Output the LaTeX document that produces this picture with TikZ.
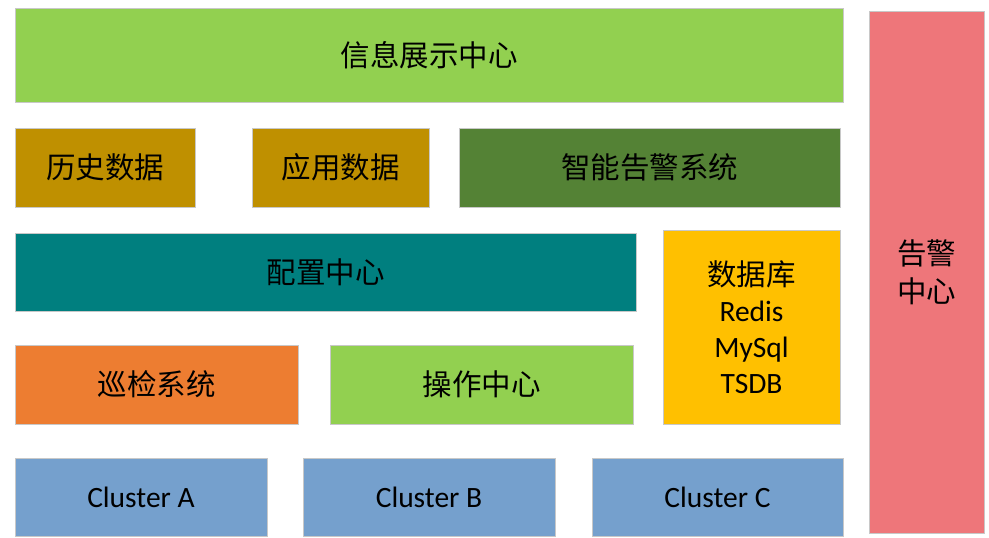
\documentclass[tikz,border=0pt]{standalone}
\usepackage{fontspec}
\setmainfont{Carlito}
\newfontfamily\cjk{Noto Sans CJK SC}
\definecolor{cgreen}{HTML}{92D050}
\definecolor{cgold}{HTML}{BF9000}
\definecolor{cdkgreen}{HTML}{548235}
\definecolor{cteal}{HTML}{007F7F}
\definecolor{corange}{HTML}{ED7D31}
\definecolor{cyellow}{HTML}{FFC000}
\definecolor{cpink}{HTML}{EE767A}
\definecolor{cblue}{HTML}{75A0CD}
\definecolor{cborder}{HTML}{C8C8C8}
\begin{document}
\begin{tikzpicture}[x=1pt,y=1pt,
  box/.style={draw=cborder, line width=0.8pt, inner sep=0pt, outer sep=0pt,
    align=center, font=\fontsize{29.5}{36}\selectfont, text=black},
  bw/.style 2 args={minimum width=#1pt, minimum height=#2pt}]
\useasboundingbox (0,0) rectangle (989,538);
\node[box, fill=cgreen, bw={828}{94}] (info) at (429,483) {\cjk 信息展示中心};
\node[box, fill=cgold, bw={180}{79}] (hist) at (105,370.5) {\cjk 历史数据};
\node[box, fill=cgold, bw={177}{79}] (app) at (340.5,370.5) {\cjk 应用数据};
\node[box, fill=cdkgreen, bw={381}{79}] (alarmsys) at (649.5,370.5) {\cjk 智能告警系统};
\node[box, fill=cteal, bw={621}{78}] (config) at (325.5,266) {\cjk 配置中心};
\node[box, fill=cyellow, bw={177}{194}] (db) at (751.5,211) {{\cjk 数据库}\\Redis\\MySql\\TSDB};
\node[box, fill=cpink, bw={115}{522}, font=\fontsize{29.5}{38}\selectfont] (alarmc) at (926.5,266) {\cjk 告警\\\cjk 中心};
\node[box, fill=corange, bw={283}{79}] (patrol) at (156.5,153.5) {\cjk 巡检系统};
\node[box, fill=cgreen, bw={303}{79}] (ops) at (481.5,153.5) {\cjk 操作中心};
\node[box, fill=cblue, bw={252}{78}] (ca) at (141,41) {Cluster A};
\node[box, fill=cblue, bw={252}{78}] (cb) at (429,41) {Cluster B};
\node[box, fill=cblue, bw={251}{78}] (cc) at (717.5,41) {Cluster C};
\end{tikzpicture}
\end{document}
